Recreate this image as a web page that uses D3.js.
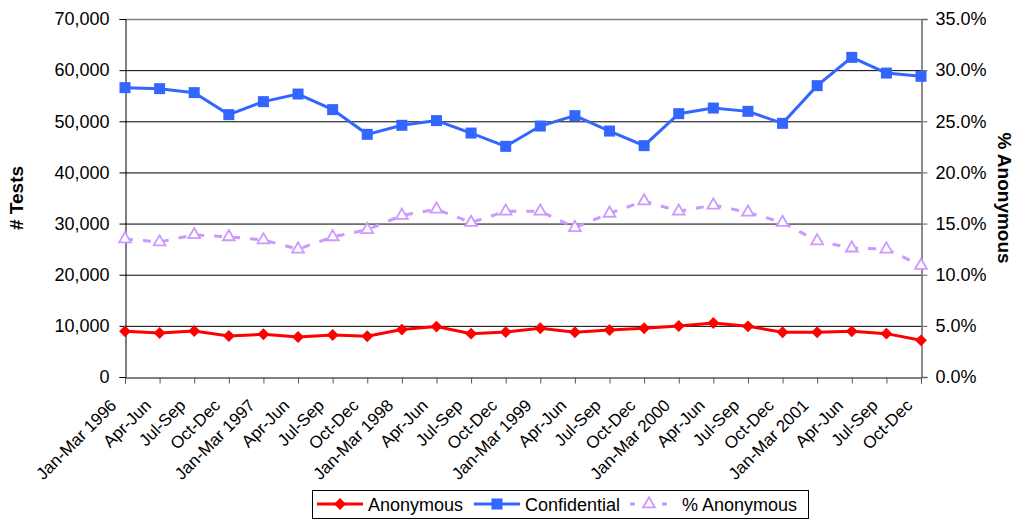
<!DOCTYPE html>
<html><head><meta charset="utf-8">
<script src="https://cdn.jsdelivr.net/npm/d3@7"></script>
<style>
body{margin:0;background:#fff;}
svg{display:block;font-family:"Liberation Sans",Arial,sans-serif;}
</style></head>
<body><svg id="c" width="1016" height="519"></svg>
<script>
const categories = ["Jan-Mar 1996","Apr-Jun","Jul-Sep","Oct-Dec","Jan-Mar 1997","Apr-Jun","Jul-Sep","Oct-Dec","Jan-Mar 1998","Apr-Jun","Jul-Sep","Oct-Dec","Jan-Mar 1999","Apr-Jun","Jul-Sep","Oct-Dec","Jan-Mar 2000","Apr-Jun","Jul-Sep","Oct-Dec","Jan-Mar 2001","Apr-Jun","Jul-Sep","Oct-Dec"];
const anonymous = [8930,8600,8990,8020,8350,7820,8210,7960,9270,9850,8480,8780,9520,8740,9190,9520,9970,10560,9910,8740,8740,8930,8480,7170];
const confidential = [56580,56380,55600,51300,53840,55330,52280,47450,49210,50130,47700,45100,49070,51100,48090,45240,51490,52590,51940,49600,56970,62500,59430,58790];
const pctAnonymous = [13.5,13.2,13.9,13.7,13.4,12.5,13.7,14.4,15.8,16.4,15.1,16.2,16.2,14.6,16.0,17.2,16.2,16.8,16.1,15.1,13.3,12.6,12.5,10.9];
const leftTicks = [0,10000,20000,30000,40000,50000,60000,70000];
const rightTicks = [0,5,10,15,20,25,30,35];
const seriesNames = ["Anonymous","Confidential","% Anonymous"];

const svg = d3.select("#c");
const L = 125, R = 921, T = 19, B = 377;
const x = d3.scalePoint().domain(d3.range(categories.length)).range([L, R]);
const y = d3.scaleLinear().domain([0,70000]).range([B, T]);
const y2 = d3.scaleLinear().domain([0,35]).range([B, T]);
const FF = "Liberation Sans, Arial, sans-serif";

// gridlines
svg.append("g").selectAll("line").data(leftTicks.filter(d=>d>0)).join("line")
  .attr("x1", L).attr("x2", R).attr("y1", d=>y(d)+0.5).attr("y2", d=>y(d)+0.5)
  .attr("stroke", d=> d===70000 ? "#808080" : "#000").attr("stroke-width", d=> d===70000 ? 1.5 : 1);

// left axis
const fmt = d3.format(",");
const gl = svg.append("g").attr("transform", `translate(${L+0.5},0)`)
  .call(d3.axisLeft(y).tickValues(leftTicks).tickFormat(fmt).tickSizeOuter(0).tickSize(6).tickPadding(10));
gl.select(".domain").attr("stroke","#000");
gl.selectAll(".tick line").attr("stroke","#000");
gl.selectAll("text").attr("font-size", 18).attr("fill","#000").attr("font-family",FF);

// right axis
const gr = svg.append("g").attr("transform", `translate(${R+0.5},0)`)
  .call(d3.axisRight(y2).tickValues(rightTicks).tickFormat(d=>d.toFixed(1)+"%").tickSizeOuter(0).tickSize(6).tickPadding(8));
gr.select(".domain").attr("stroke","#666").attr("stroke-width",1.5);
gr.selectAll(".tick line").attr("stroke","#666");
gr.selectAll("text").attr("font-size", 18).attr("fill","#000").attr("font-family",FF);

// bottom axis
const gb = svg.append("g").attr("transform", `translate(0,${B+0.5})`)
  .call(d3.axisBottom(x).tickFormat(i=>categories[i]).tickSizeOuter(0).tickSize(6));
gb.select(".domain").attr("stroke","#000");
gb.selectAll(".tick line").attr("stroke","#555");
gb.selectAll("text").attr("font-size", 17).attr("fill","#000").attr("font-family",FF)
  .attr("text-anchor","end").attr("dy",0).attr("y",0)
  .attr("transform","translate(-8,29) rotate(-45)");

// axis titles
svg.append("text").attr("transform",`translate(23,${(T+B)/2}) rotate(-90)`).attr("text-anchor","middle")
  .attr("font-size",19).attr("font-weight","bold").text("# Tests");
svg.append("text").attr("transform",`translate(998,${(T+B)/2}) rotate(90)`).attr("text-anchor","middle")
  .attr("font-size",19).attr("font-weight","bold").text("% Anonymous");

const idx = d3.range(categories.length);
const lineL = d3.line().x(i=>x(i)).y(i=>y(anonymous[i]));
const lineC = d3.line().x(i=>x(i)).y(i=>y(confidential[i]));
const lineP = d3.line().x(i=>x(i)).y(i=>y2(pctAnonymous[i]));

const purple = "#CC99FF", red = "#FF0000", blue = "#3366FF";

// % anonymous
svg.append("path").attr("d", lineP(idx)).attr("fill","none").attr("stroke",purple).attr("stroke-width",3).attr("stroke-dasharray","8,10");
const tri = d3.symbol().type(d3.symbolTriangle).size(60);
svg.append("g").selectAll("path").data(idx).join("path")
  .attr("d", tri).attr("transform", i=>`translate(${x(i)},${y2(pctAnonymous[i])})`)
  .attr("fill","#fff").attr("stroke",purple).attr("stroke-width",1.8);

// confidential
svg.append("path").attr("d", lineC(idx)).attr("fill","none").attr("stroke",blue).attr("stroke-width",3);
svg.append("g").selectAll("rect").data(idx).join("rect")
  .attr("x", i=>x(i)-5.5).attr("y", i=>y(confidential[i])-5.5).attr("width",11).attr("height",11).attr("fill",blue);

// anonymous
svg.append("path").attr("d", lineL(idx)).attr("fill","none").attr("stroke",red).attr("stroke-width",3);
const dia = d3.symbol().type(d3.symbolDiamond2).size(90);
svg.append("g").selectAll("path").data(idx).join("path")
  .attr("d", dia).attr("transform", i=>`translate(${x(i)},${y(anonymous[i])})`).attr("fill",red);

// legend
const lg = svg.append("g").attr("font-family",FF);
lg.append("rect").attr("x",312.5).attr("y",490.5).attr("width",496).attr("height",28).attr("fill","#fff").attr("stroke","#000").attr("stroke-width",1);
const ly = 504;
lg.append("line").attr("x1",317).attr("x2",363).attr("y1",ly).attr("y2",ly).attr("stroke",red).attr("stroke-width",3);
lg.append("path").attr("d",dia).attr("transform",`translate(340,${ly})`).attr("fill",red);
lg.append("text").attr("x",368).attr("y",ly+6.5).attr("font-size",18).text(seriesNames[0]);
lg.append("line").attr("x1",474).attr("x2",520).attr("y1",ly).attr("y2",ly).attr("stroke",blue).attr("stroke-width",3);
lg.append("rect").attr("x",497-5.5).attr("y",ly-5.5).attr("width",11).attr("height",11).attr("fill",blue);
lg.append("text").attr("x",525).attr("y",ly+6.5).attr("font-size",18).text(seriesNames[1]);
lg.append("line").attr("x1",630).attr("x2",669).attr("y1",ly).attr("y2",ly).attr("stroke",purple).attr("stroke-width",3).attr("stroke-dasharray","5,11");
lg.append("path").attr("d",tri).attr("transform",`translate(649,${ly})`).attr("fill","#fff").attr("stroke",purple).attr("stroke-width",1.8);
lg.append("text").attr("x",682).attr("y",ly+6.5).attr("font-size",18).text(seriesNames[2]);
</script></body></html>
